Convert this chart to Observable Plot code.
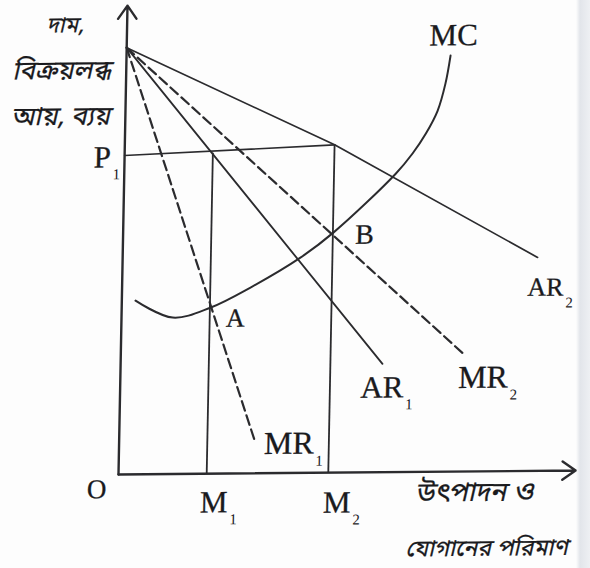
<!DOCTYPE html>
<html>
<head>
<meta charset="utf-8">
<script src="https://cdn.jsdelivr.net/npm/d3@7"></script>
<script src="https://cdn.jsdelivr.net/npm/@observablehq/plot@0.6"></script>
<style>
  html, body { margin: 0; padding: 0; }
  body {
    width: 590px; height: 568px; overflow: hidden;
    background: linear-gradient(to right, #fdfdfd 0, #fdfdfd 576px, #e2e5ea 580px, #eef0f3 590px);
  }
  #chart svg {
    display: block;
    transform-origin: 118px 474px;
    transform: skewX(-1.1deg) skewY(-0.5deg);
  }
</style>
</head>
<body>
<div id="chart"></div>
<script>
// Demand / revenue curves (quantity q, price p)
const ar1Q = [0, 57.3];
const ar1P = [91.4, 23.2];
const ar2Q = [0, 45.9, 90.8];
const ar2P = [91.4, 70.2, 45.7];
const mr1Q = [0, 29.8];
const mr1P = [91.4, 6.6];
const mr2Q = [0, 75.2];
const mr2P = [91.4, 25.0];
// Marginal cost curve
const mcQ = [3.0, 11.2, 19.5, 28.1, 38.9, 46.0, 59.4, 63.0, 65.8, 68.3, 69.9, 70.9];
const mcP = [37.2, 33.5, 35.6, 39.8, 46.1, 51.4, 63.9, 68.2, 72.4, 77.3, 83.1, 89.1];
// Equilibrium outputs M1, M2 and the price line P1
const outputQ = [19.3, 45.9];
const outputTop = [68.6, 70.2];
const p1Q = [0, 45.9];
const p1P = [68.3, 70.2];
// Axis extents
const axisMaxQ = 100;
const axisMaxP = 100.4;

// Curve labels (main text + subscript)
const labelText = ["AR", "AR", "MR", "MR", "P", "M", "M"];
const labelSub  = ["2",  "1",  "2",  "1",  "1", "1", "2"];
const labelQ    = [96.6, 62.0, 84.8, 42.6, -3.0, 24.0, 50.9];
const labelP    = [37.5, 16.0, 17.9, 4.1, 65.8, -8.3, -8.6];
const labelSize = [26, 31, 32, 32, 31, 31, 31];
// Point labels
const pointText = ["MC", "O", "A", "B"];
const pointQ = [71.5, -4.7, 24.9, 52.8];
const pointP = [93.4, -3.2, 33.2, 50.9];
const pointSize = [31, 27, 26, 28];
// Axis titles (Bengali)
const yTitle = ["দাম,", "বিক্রয়লব্ধ", "আয়, ব্যয়"];
const yTitleQ = [-13.2, -13.8, -13.8];
const yTitleP = [96.3, 86.6, 76.8];
const yTitleSize = [22, 26, 26];
const xTitle = ["উৎপাদন ও", "যোগানের পরিমাণ"];
const xTitleQ = [78.3, 81.2];
const xTitleP = [-4.5, -16.5];
const xTitleSize = [27, 23];

const pts = (qs, ps) => qs.map((q, i) => ({q, p: ps[i]}));
const ink = "#2b2b2e";
const txt = "#1a1a1d";
const bn = "'Noto Sans Bengali', 'Noto Serif Bengali', 'Lohit Bengali', sans-serif";

const labels = labelText.map((t, i) => ({t, s: labelSub[i], q: labelQ[i], p: labelP[i], size: labelSize[i]}));
const points = pointText.map((t, i) => ({t, q: pointQ[i], p: pointP[i], size: pointSize[i]}));
const titles = [
  ...yTitle.map((t, i) => ({t, q: yTitleQ[i], p: yTitleP[i], size: yTitleSize[i]})),
  ...xTitle.map((t, i) => ({t, q: xTitleQ[i], p: xTitleP[i], size: xTitleSize[i]}))
];

const chart = Plot.plot({
  width: 590,
  height: 568,
  margin: 0,
  x: {domain: [0, 100], range: [118, 575]},
  y: {domain: [0, 100], range: [474, 7]},
  axis: null,
  style: {fontFamily: "'Liberation Serif', serif", background: "transparent", overflow: "visible"},
  marks: [
    // axes with open arrowheads
    Plot.arrow([{x1: 0, y1: 0, x2: 0, y2: axisMaxP}, {x1: 0, y1: 0, x2: axisMaxQ, y2: 0}], {
      x1: "x1", y1: "y1", x2: "x2", y2: "y2",
      stroke: ink, strokeWidth: 2.4, headAngle: 70, headLength: 10
    }),
    // vertical output lines M1, M2
    Plot.ruleX(outputQ.map((q, i) => ({q, top: outputTop[i]})), {
      x: "q", y1: 0, y2: "top", stroke: ink, strokeWidth: 1.8
    }),
    // P1 price line
    Plot.line(pts(p1Q, p1P), {x: "q", y: "p", stroke: ink, strokeWidth: 1.6}),
    // AR curves (solid)
    Plot.line(pts(ar1Q, ar1P), {x: "q", y: "p", stroke: ink, strokeWidth: 1.8}),
    Plot.line(pts(ar2Q, ar2P), {x: "q", y: "p", stroke: ink, strokeWidth: 1.7}),
    // MR curves (dashed)
    Plot.line(pts(mr1Q, mr1P), {x: "q", y: "p", stroke: ink, strokeWidth: 2.2, strokeDasharray: "10,5"}),
    Plot.line(pts(mr2Q, mr2P), {x: "q", y: "p", stroke: ink, strokeWidth: 2.2, strokeDasharray: "10,5"}),
    // MC curve
    Plot.line(pts(mcQ, mcP), {x: "q", y: "p", curve: "catmull-rom", stroke: ink, strokeWidth: 2}),
    // curve labels
    Plot.text(labels, {
      x: "q", y: "p", text: "t", fontSize: d => d.size, textAnchor: "end", lineAnchor: "bottom",
      fill: txt, stroke: txt, strokeWidth: 0.3
    }),
    Plot.text(labels, {
      x: "q", y: "p", text: "s", fontSize: 15, textAnchor: "start", lineAnchor: "bottom",
      dx: 2, dy: 12, fill: txt
    }),
    // point labels
    Plot.text(points, {
      x: "q", y: "p", text: "t", fontSize: d => d.size, textAnchor: "middle", lineAnchor: "middle",
      fill: txt, stroke: txt, strokeWidth: 0.3
    }),
    // axis titles
    Plot.text(titles, {
      x: "q", y: "p", text: "t", fontSize: d => d.size, fontFamily: bn,
      textAnchor: "middle", lineAnchor: "middle", fill: txt, stroke: txt, strokeWidth: 0.25
    })
  ]
});
// slant the handwritten-looking Bengali titles (keep Plot's translate, add a skew)
chart.querySelectorAll("text").forEach(t => {
  if (!/[\u0980-\u09FF]/.test(t.textContent)) return;
  const tr = t.getAttribute("transform") || "";
  t.setAttribute("transform", tr + " skewX(-12)");
});
document.getElementById("chart").appendChild(chart);
</script>
</body>
</html>
